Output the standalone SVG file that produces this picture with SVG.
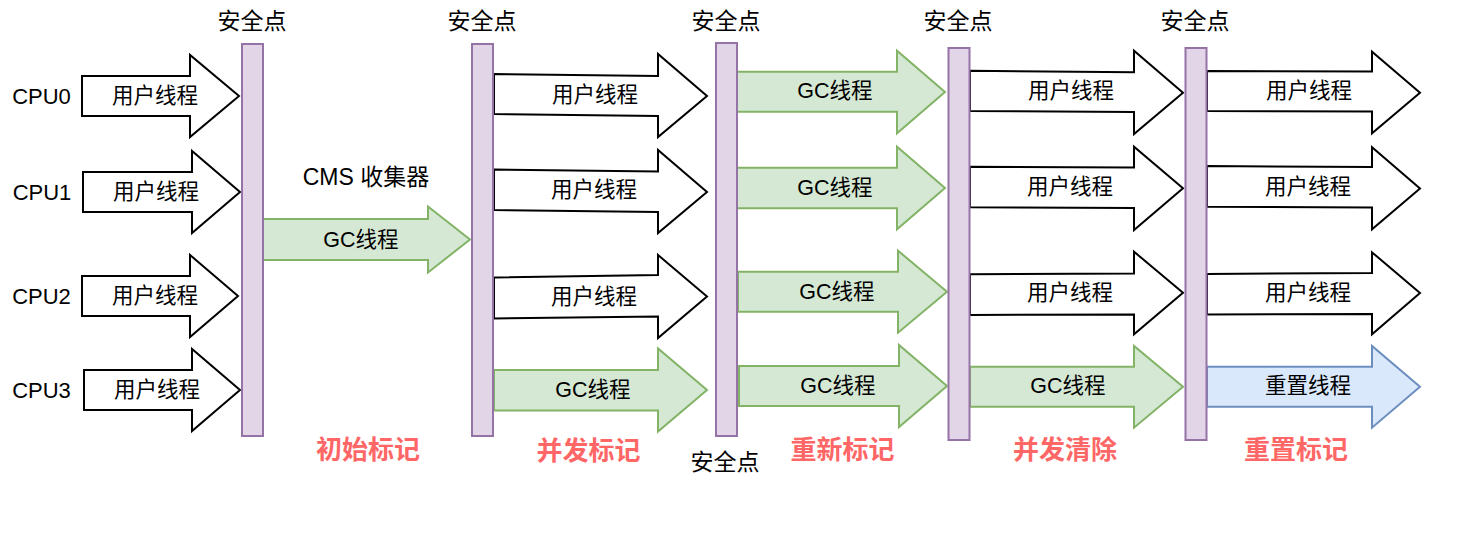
<svg xmlns="http://www.w3.org/2000/svg" width="1462" height="552" viewBox="0 0 1462 552">
<style>
text{font-family:"Liberation Sans","Noto Sans CJK SC",sans-serif;fill:#000;text-anchor:middle;dominant-baseline:central}
.t{font-size:21.5px}
.sp{font-size:23px}
.cpu{font-size:22px}
.ph{font-size:26px;font-weight:bold;fill:#FF6666}
.bar{fill:#e1d5e7;stroke:#9673a6;stroke-width:2}
.user{fill:#ffffff;stroke:#000000;stroke-width:2;stroke-linejoin:miter}
.gc{fill:#d5e8d4;stroke:#82b366;stroke-width:2}
.reset{fill:#dae8fc;stroke:#6c8ebf;stroke-width:2}
</style>
<rect width="1462" height="552" fill="#ffffff"/>

<g id="labels">
<text class="cpu" x="41.5" y="96">CPU0</text>
<text class="cpu" x="42" y="192">CPU1</text>
<text class="cpu" x="41.5" y="296">CPU2</text>
<text class="cpu" x="41.5" y="390">CPU3</text>
<text class="sp" x="366" y="177">CMS 收集器</text>
</g>

<g id="connectors">
<g id="c0r0"><polygon class="user" points="82,76 190,76 190,55 239,96 190,137 190,116 82,116"/><text class="t" x="155" y="96">用户线程</text></g>
<g id="c0r1"><polygon class="user" points="83,172 192,172 192,151 240,192 192,233 192,212 83,212"/><text class="t" x="156" y="192">用户线程</text></g>
<g id="c0r2"><polygon class="user" points="82,276 190,276 190,255 238,296 190,337 190,316 82,316"/><text class="t" x="155" y="296">用户线程</text></g>
<g id="c0r3"><polygon class="user" points="84,370 192,370 192,349 240,390 192,431 192,410 84,410"/><text class="t" x="157" y="390">用户线程</text></g>

<g id="c1gc"><polygon class="gc" points="263,219 428,219 428,206.5 470,239.5 428,272.5 428,260 263,260"/><text class="t" x="361" y="239.5">GC线程</text></g>

<g id="c2r0"><polygon class="user" points="494,74 658,76 658,54 707,96 658,137 658,116 494,114"/><text class="t" x="595" y="95">用户线程</text></g>
<g id="c2r1"><polygon class="user" points="494,169.5 658,171.5 658,150 707,192 658,233 658,212 494,210"/><text class="t" x="594" y="190">用户线程</text></g>
<g id="c2r2"><polygon class="user" points="494,277.5 658,275 658,255 707,296.5 658,338 658,316.5 494,318.5"/><text class="t" x="594" y="297">用户线程</text></g>
<g id="c2r3"><polygon class="gc" points="494,370 658,370 658,348.5 707,390 658,431.5 658,410.5 494,410.5"/><text class="t" x="593" y="390">GC线程</text></g>

<g id="c3r0"><polygon class="gc" points="737,71.7 897,71.7 897,50.7 945,92 897,133.3 897,111.7 737,111.7"/><text class="t" x="835" y="91">GC线程</text></g>
<g id="c3r1"><polygon class="gc" points="737,167.7 897,167.7 897,146.7 945,188 897,229.3 897,208.3 737,208.3"/><text class="t" x="835" y="188">GC线程</text></g>
<g id="c3r2"><polygon class="gc" points="738,271.7 898,271.7 898,250.7 947,291.7 898,332.7 898,311.7 738,311.7"/><text class="t" x="837" y="291.5">GC线程</text></g>
<g id="c3r3"><polygon class="gc" points="739,366 899,366 899,345 947,386 899,427 899,406 739,406"/><text class="t" x="838" y="385.5">GC线程</text></g>

<g id="c4r0"><polygon class="user" points="970,70.7 1134,72.3 1134,50.7 1183,92.7 1134,134 1134,112 970,111"/><text class="t" x="1071" y="91">用户线程</text></g>
<g id="c4r1"><polygon class="user" points="970,166.7 1134,167.5 1134,146.7 1183,188.3 1134,230 1134,208 970,207.3"/><text class="t" x="1070" y="187">用户线程</text></g>
<g id="c4r2"><polygon class="user" points="970,274.3 1134,273.5 1134,251.7 1183,292.7 1134,334.3 1134,314.5 970,315"/><text class="t" x="1070" y="293">用户线程</text></g>
<g id="c4r3"><polygon class="gc" points="970,366.7 1134,366.7 1134,346 1183,386.7 1134,427.7 1134,406.7 970,406.7"/><text class="t" x="1068" y="385.5">GC线程</text></g>

<g id="c5r0"><polygon class="user" points="1207,71 1372,71.5 1372,51.7 1420,92.7 1372,133.3 1372,111.5 1207,111"/><text class="t" x="1309" y="91">用户线程</text></g>
<g id="c5r1"><polygon class="user" points="1207,166 1372,167 1372,147.3 1420,188.5 1372,229.3 1372,207.5 1207,206.7"/><text class="t" x="1308" y="187">用户线程</text></g>
<g id="c5r2"><polygon class="user" points="1207,274 1372,273 1372,252.3 1420,293 1372,334.3 1372,314 1207,314.5"/><text class="t" x="1308" y="293">用户线程</text></g>
<g id="c5r3"><polygon class="reset" points="1207,366.7 1372,366.7 1372,346 1420,386.7 1372,427.7 1372,406.7 1207,406.7"/><text class="t" x="1308" y="385.5">重置线程</text></g>
</g>

<g id="bar1"><rect class="bar" x="242" y="44" width="21" height="392"/><text class="sp" x="252" y="21">安全点</text></g>
<g id="bar2"><rect class="bar" x="472" y="44" width="21" height="392"/><text class="sp" x="482" y="21">安全点</text></g>
<g id="bar3"><rect class="bar" x="716" y="43" width="21" height="393"/><text class="sp" x="726" y="21">安全点</text><text class="sp" x="725" y="462">安全点</text></g>
<g id="bar4"><rect class="bar" x="948.5" y="48" width="21" height="392"/><text class="sp" x="958" y="21">安全点</text></g>
<g id="bar5"><rect class="bar" x="1185.5" y="48" width="21" height="392"/><text class="sp" x="1195" y="21">安全点</text></g>

<g id="phases">
<text class="ph" x="368" y="450">初始标记</text>
<text class="ph" x="588.5" y="451">并发标记</text>
<text class="ph" x="842.5" y="449.5">重新标记</text>
<text class="ph" x="1065" y="449.5">并发清除</text>
<text class="ph" x="1296" y="449.5">重置标记</text>
</g>
</svg>
